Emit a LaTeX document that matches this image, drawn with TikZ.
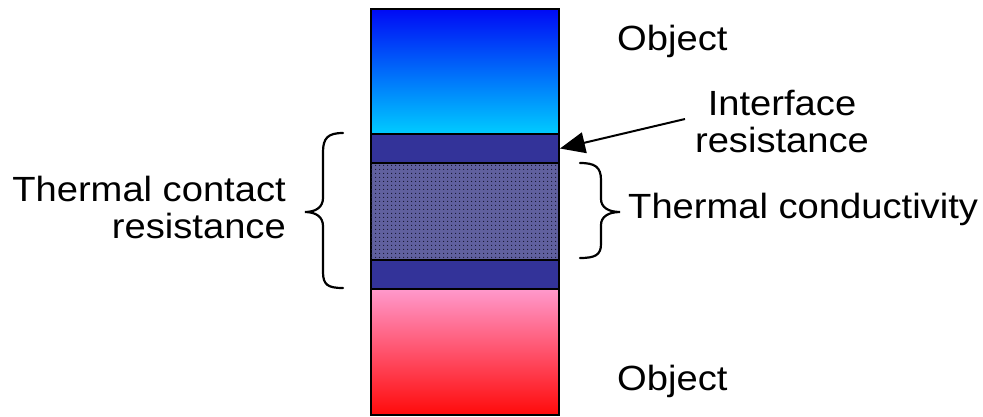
\documentclass[tikz,border=0pt]{standalone}
\usepackage{fontspec}
\setmainfont{Liberation Sans}[FakeStretch=1.09]
\usetikzlibrary{arrows.meta,patterns.meta}
\definecolor{topblue}{RGB}{0,10,245}
\definecolor{topcyan}{RGB}{0,204,255}
\definecolor{band}{RGB}{51,51,153}
\definecolor{midcol}{RGB}{96,96,158}
\definecolor{dotcol}{RGB}{20,20,45}
\definecolor{pinktop}{RGB}{255,153,204}
\definecolor{redbot}{RGB}{255,10,10}
\tikzset{
  layer/.style={draw=black, line width=2pt, minimum width=188pt, inner sep=0pt, anchor=north west, rectangle},
  lbl/.style={font=\fontsize{35}{37}\selectfont, inner sep=0pt},
  bracestyle/.style={draw=black, line width=2.2pt, line cap=round},
}
\begin{document}
\begin{tikzpicture}[x=1pt,y=-1pt]
\useasboundingbox (0,0) rectangle (983,416);
\fill[white] (0,0) rectangle (983,416);
% layers
\node[layer, minimum height=125pt, top color=topblue, bottom color=topcyan] (top) at (370,8) {};
\node[layer, minimum height=126pt, top color=pinktop, bottom color=redbot] (bottom) at (370,288) {};
\node[layer, minimum height=97pt, fill=midcol, postaction={pattern={Dots[distance=4pt,radius=0.7pt]}, pattern color=dotcol}] (mid) at (370,162) {};
\node[layer, minimum height=29pt, fill=band] (band1) at (370,133) {};
\node[layer, minimum height=29pt, fill=band] (band2) at (370,259) {};
% labels
\node[lbl, anchor=base west] (objtop) at (617,50) {Object};
\node[lbl, anchor=base west] (objbot) at (617,390) {Object};
\node[lbl, anchor=base, align=center] (iface) at (782,152) {Interface\\resistance};
\node[lbl, anchor=base west] (tcond) at (628,218) {Thermal conductivity};
\node[lbl, anchor=base east, align=right] (tcontact) at (286,238) {Thermal contact\\resistance};
% braces
\coordinate (lbtop) at (343,133);
\coordinate (lbtip) at (305,212);
\coordinate (lbbot) at (343,288);
\draw[bracestyle] (lbtop) .. controls (328,133) and (323,138) .. (323,152) -- (323,198)
  .. controls (323,207) and (316,212) .. (lbtip)
  .. controls (316,212) and (323,217) .. (323,226) -- (323,272)
  .. controls (323,285) and (328,288) .. (lbbot);
\coordinate (rbtop) at (580,163);
\coordinate (rbtip) at (620,212);
\coordinate (rbbot) at (580,258);
\draw[bracestyle] (rbtop) .. controls (595,163) and (601,167) .. (601,180) -- (601,199)
  .. controls (601,207) and (608,212) .. (rbtip)
  .. controls (608,212) and (601,217) .. (601,225) -- (601,244)
  .. controls (601,255) and (595,258) .. (rbbot);
% arrow
\coordinate (arrtail) at (685,119);
\draw[line width=2pt, -{Triangle[length=25pt,width=21pt]}] (arrtail) -- (band1.east);
\end{tikzpicture}
\end{document}
